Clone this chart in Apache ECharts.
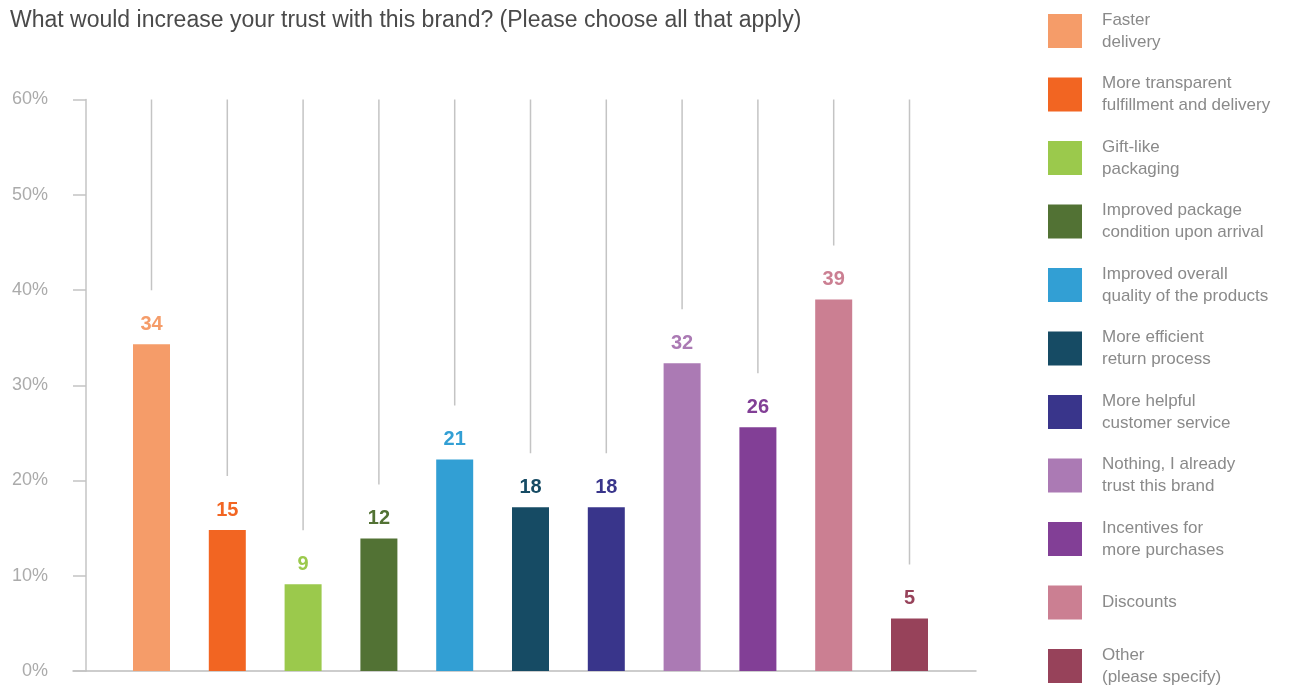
<!DOCTYPE html>
<html>
<head>
<meta charset="utf-8">
<script src="https://cdn.jsdelivr.net/npm/echarts@6/dist/echarts.min.js"></script>
<style>
html,body{margin:0;padding:0;background:#fff;}
#chart{width:1289px;height:691px;}
</style>
</head>
<body>
<div id="chart"></div>
<script>
const titleText = 'What would increase your trust with this brand? (Please choose all that apply)';
const categories = [
  'Faster\ndelivery',
  'More transparent\nfulfillment and delivery',
  'Gift-like\npackaging',
  'Improved package\ncondition upon arrival',
  'Improved overall\nquality of the products',
  'More efficient\nreturn process',
  'More helpful\ncustomer service',
  'Nothing, I already\ntrust this brand',
  'Incentives for\nmore purchases',
  'Discounts',
  'Other\n(please specify)'
];
const barValues = [34.3, 14.8, 9.1, 13.9, 22.2, 17.2, 17.2, 32.3, 25.6, 39.0, 5.5];
const barLabels = ['34', '15', '9', '12', '21', '18', '18', '32', '26', '39', '5'];
const colors = ['#F59C69', '#F26522', '#9BC94C', '#527234', '#329FD4', '#164B64', '#39358B', '#AB7AB4', '#823F96', '#CB7F92', '#97425A'];
const yTicks = [0, 10, 20, 30, 40, 50, 60];

const FONT = '"Liberation Sans", Helvetica, Arial, sans-serif';
const chart = echarts.init(document.getElementById('chart'), null, {renderer: 'canvas'});

const idx = categories.map((c, i) => i);
const barSeries = categories.map((name, i) => ({
  name: name,
  type: 'bar',
  stack: 'all',
  barWidth: 37,
  xAxisIndex: 0,
  yAxisIndex: 0,
  itemStyle: {color: colors[i]},
  label: {
    show: true,
    position: 'top',
    distance: 10,
    color: colors[i],
    fontFamily: FONT,
    fontSize: 20,
    fontWeight: 'bold',
    formatter: () => barLabels[i]
  },
  data: idx.map(j => j === i ? barValues[i] : '-'),
  z: 3
}));

const lineSeries = {
  type: 'custom',
  xAxisIndex: 0,
  yAxisIndex: 0,
  silent: true,
  z: 1,
  encode: {x: 0, y: 1},
  data: barValues.map((v, i) => [i, v]),
  renderItem: function (params, api) {
    const i = api.value(0);
    const v = api.value(1);
    const p0 = api.coord([i, v]);
    const p1 = api.coord([i, yTicks[yTicks.length - 1]]);
    return {
      type: 'line',
      shape: {x1: p0[0], y1: p0[1] - 54, x2: p1[0], y2: p1[1]},
      style: {stroke: '#c4c4c4', lineWidth: 1.5}
    };
  }
};

const legends = categories.map((name, i) => {
  const lines = name.split('\n').length;
  const textH = lines * 22;
  const extra = textH > 34 ? (textH - 34) / 2 : 0;
  return {
    data: [name],
    orient: 'vertical',
    left: 1048,
    top: 14 + 63.5 * i - extra,
    padding: 0,
    itemWidth: 34,
    itemHeight: 34,
    icon: 'rect',
    selectedMode: false,
    textStyle: {color: '#8a8a8a', fontFamily: FONT, fontSize: 17, lineHeight: 22, padding: [0, 0, 0, 15]}
  };
});

chart.setOption({
  animation: false,
  backgroundColor: '#ffffff',
  title: {
    text: titleText,
    left: 10,
    top: 9,
    padding: 0,
    textStyle: {color: '#4a4a4a', fontFamily: FONT, fontSize: 23, fontWeight: 'normal'}
  },
  legend: legends,
  grid: [
    {left: 113.6, right: 341.6, top: 99.5, bottom: 20},
    {left: 73, right: 313, top: 99.5, bottom: 20}
  ],
  xAxis: [
    {
      type: 'category',
      gridIndex: 0,
      data: categories,
      axisLine: {show: false},
      axisTick: {show: false},
      axisLabel: {show: false},
      splitLine: {show: false}
    },
    {
      type: 'value',
      gridIndex: 1,
      min: 0,
      max: 1,
      axisLine: {show: true, lineStyle: {color: '#bdbdbd', width: 1.5}},
      axisTick: {show: false},
      axisLabel: {show: false},
      splitLine: {show: false}
    }
  ],
  yAxis: [
    {
      type: 'value',
      gridIndex: 0,
      min: yTicks[0],
      max: yTicks[yTicks.length - 1],
      interval: 10,
      offset: 27.6,
      axisLine: {show: true, lineStyle: {color: '#c4c4c4', width: 1.5}},
      axisTick: {show: true, length: 13, lineStyle: {color: '#c4c4c4', width: 1.5}},
      axisLabel: {formatter: '{value}%', color: '#ababab', fontFamily: FONT, fontSize: 18, margin: 38, padding: [5, 0, 0, 0]},
      splitLine: {show: false}
    },
    {
      type: 'value',
      gridIndex: 1,
      show: false,
      min: 0,
      max: 60
    }
  ],
  series: [lineSeries].concat(barSeries)
});
</script>
</body>
</html>
